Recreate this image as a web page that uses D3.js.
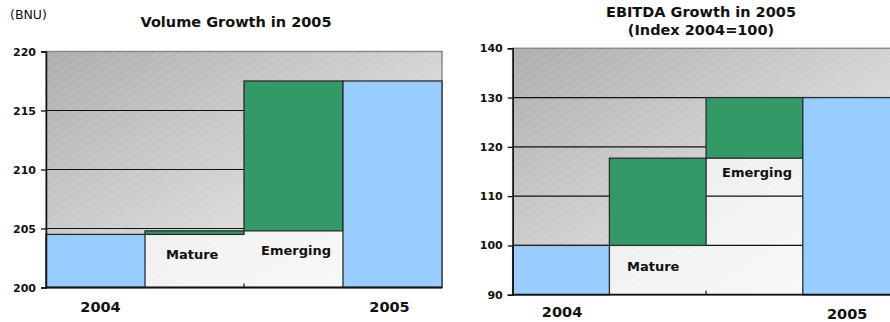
<!DOCTYPE html>
<html>
<head>
<meta charset="utf-8">
<script src="https://cdn.jsdelivr.net/npm/d3@7"></script>
<style>
  body { margin: 0; background: #fff; }
  text { font-family: "DejaVu Sans", Verdana, sans-serif; fill: #111; }
</style>
</head>
<body>
<svg id="chart" width="890" height="322"></svg>
<script>
// waterfall steps: 2004 total, Mature, Emerging, 2005 total
var categories = ["2004", "Mature", "Emerging", "2005"];

var volumeTotals = [204.5, 217.5];   // 2004, 2005 (BNU)
var volumeSteps = [0.3, 12.7];       // Mature, Emerging
var volumeTicks = [200, 205, 210, 215, 220];

var ebitdaTotals = [100, 130];       // index 2004=100
var ebitdaSteps = [17.7, 12.3];
var ebitdaTicks = [90, 100, 110, 120, 130, 140];

var svg = d3.select("#chart");
var defs = svg.append("defs");

var grad = defs.append("linearGradient").attr("id", "bgGrad")
    .attr("x1", 0).attr("y1", 0).attr("x2", 1).attr("y2", 1);
grad.append("stop").attr("offset", "0%").attr("stop-color", "#adadad");
grad.append("stop").attr("offset", "55%").attr("stop-color", "#d6d6d6");
grad.append("stop").attr("offset", "100%").attr("stop-color", "#f4f4f4");

var hatch = defs.append("pattern").attr("id", "hatch")
    .attr("patternUnits", "userSpaceOnUse")
    .attr("width", 6).attr("height", 6)
    .attr("patternTransform", "rotate(-32)");
hatch.append("line")
    .attr("x1", 0).attr("y1", 3).attr("x2", 6).attr("y2", 3)
    .attr("stroke", "#fff").attr("stroke-opacity", 0.25)
    .attr("stroke-width", 1).attr("stroke-dasharray", "2,1");

function drawChart(opt) {
    var g = svg.append("g");
    var x = d3.scaleBand().domain(categories).range([opt.x0, opt.x1]).padding(0);
    var y = d3.scaleLinear().domain([opt.ticks[0], opt.ticks[opt.ticks.length - 1]])
        .range([opt.yBot, opt.yTop]);
    var ymin = opt.ticks[0];

    // build waterfall segments
    var start = opt.totals[0];
    var mid = start + opt.steps[0];
    var end = mid + opt.steps[1];
    var whites = [
        {cat: "Mature", lo: ymin, hi: start},
        {cat: "Emerging", lo: ymin, hi: mid}
    ];
    var greens = [
        {cat: "Mature", lo: start, hi: mid},
        {cat: "Emerging", lo: mid, hi: end}
    ];
    var blues = [
        {cat: "2004", lo: ymin, hi: opt.totals[0]},
        {cat: "2005", lo: ymin, hi: opt.totals[1]}
    ];

    // plot background
    g.append("rect").attr("x", opt.x0).attr("y", opt.yTop)
        .attr("width", opt.x1 - opt.x0).attr("height", opt.yBot - opt.yTop)
        .attr("fill", "url(#bgGrad)");
    g.append("rect").attr("x", opt.x0).attr("y", opt.yTop)
        .attr("width", opt.x1 - opt.x0).attr("height", opt.yBot - opt.yTop)
        .attr("fill", "url(#hatch)");
    g.append("rect").attr("x", opt.x0).attr("y", opt.yTop)
        .attr("width", opt.x1 - opt.x0).attr("height", opt.yBot - opt.yTop)
        .attr("fill", "none").attr("stroke", "#8a8a8a").attr("stroke-width", 1.5);

    function bars(data, fill, op, stroke) {
        g.selectAll(null).data(data).enter().append("rect")
            .attr("x", function (d) { return x(d.cat); })
            .attr("y", function (d) { return y(d.hi); })
            .attr("width", x.bandwidth())
            .attr("height", function (d) { return y(d.lo) - y(d.hi); })
            .attr("fill", fill).attr("fill-opacity", op)
            .attr("stroke", stroke).attr("stroke-width", 1.3);
    }

    // the invisible base of the waterfall, light fill without edges
    bars(whites, "#ffffff", 0.65, "none");

    // gridlines
    g.selectAll(null).data(opt.ticks.slice(1, -1)).enter().append("line")
        .attr("x1", opt.x0).attr("x2", opt.x1)
        .attr("y1", function (d) { return y(d); })
        .attr("y2", function (d) { return y(d); })
        .attr("stroke", "#111").attr("stroke-width", 1.2);

    bars(greens, "#339966", 1, "#2b2b2b");
    bars(blues, "#99ccff", 1, "#2b2b2b");

    // axes
    var yAxis = d3.axisLeft(y).tickValues(opt.ticks).tickSize(5).tickPadding(5);
    var ya = g.append("g").attr("transform", "translate(" + opt.x0 + ",0)").call(yAxis);
    ya.select(".domain").attr("stroke", "#111").attr("stroke-width", 1.5);
    ya.selectAll(".tick line").attr("stroke", "#111").attr("stroke-width", 1.3);
    ya.selectAll(".tick text").attr("font-size", 11).attr("font-weight", "bold")
        .attr("font-family", "DejaVu Sans").attr("fill", "#111");

    g.append("line").attr("x1", opt.x0).attr("x2", opt.x1)
        .attr("y1", opt.yBot).attr("y2", opt.yBot)
        .attr("stroke", "#111").attr("stroke-width", 1.8);
    g.append("line").attr("x1", x("Emerging")).attr("x2", x("Emerging"))
        .attr("y1", opt.yBot).attr("y2", opt.yBot - 4)
        .attr("stroke", "#111").attr("stroke-width", 1.2);

    // category labels
    g.append("text").attr("x", x("2004") + x.bandwidth() / 2 + opt.lab[0])
        .attr("y", opt.lab[1]).attr("text-anchor", "middle")
        .attr("font-size", 14.5).attr("font-weight", "bold").text("2004");
    g.append("text").attr("x", x("2005") + x.bandwidth() / 2 + opt.lab[2])
        .attr("y", opt.lab[3]).attr("text-anchor", "middle")
        .attr("font-size", 14.5).attr("font-weight", "bold").text("2005");

    // in-bar labels
    g.append("text").attr("x", opt.mature[0]).attr("y", opt.mature[1])
        .attr("font-size", 13).attr("font-weight", "bold").text("Mature");
    g.append("text").attr("x", opt.emerging[0]).attr("y", opt.emerging[1])
        .attr("font-size", 13).attr("font-weight", "bold").text("Emerging");

    // title
    opt.title.forEach(function (t, i) {
        g.append("text").attr("x", opt.titleX).attr("y", opt.titleY + i * 18)
            .attr("text-anchor", "middle").attr("font-size", 14.5)
            .attr("font-weight", "bold").text(t);
    });
}

drawChart({
    x0: 46, x1: 442, yTop: 51.5, yBot: 287.5,
    ticks: volumeTicks, totals: volumeTotals, steps: volumeSteps,
    lab: [5, 312, -3, 312],
    mature: [166, 259], emerging: [261, 255],
    title: ["Volume Growth in 2005"], titleX: 236, titleY: 27
});

drawChart({
    x0: 512.7, x1: 899.5, yTop: 48.3, yBot: 294.7,
    ticks: ebitdaTicks, totals: ebitdaTotals, steps: ebitdaSteps,
    lab: [1, 317, -4, 319],
    mature: [627, 271], emerging: [722, 177],
    title: ["EBITDA Growth in 2005", "(Index 2004=100)"], titleX: 701, titleY: 17
});

svg.append("text").attr("x", 10).attr("y", 19)
    .attr("font-size", 12.5).text("(BNU)");
</script>
</body>
</html>
